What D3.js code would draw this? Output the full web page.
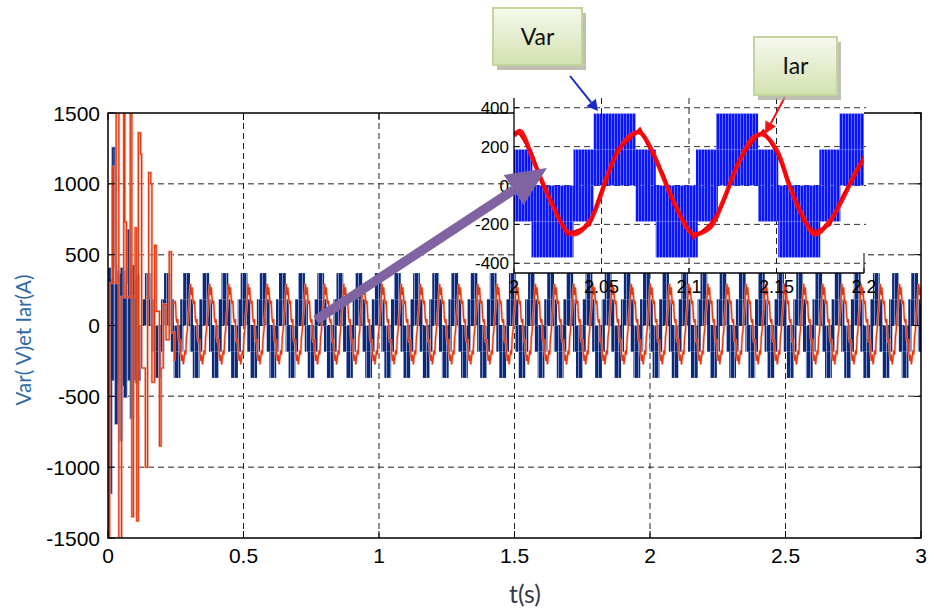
<!DOCTYPE html>
<html><head><meta charset="utf-8">
<script src="https://cdn.jsdelivr.net/npm/d3@7"></script>
<style>body{margin:0;background:#fff;} svg{display:block;}</style>
</head><body><svg id="c" width="934" height="610"></svg>
<script>
// ---------- axis ticks ----------
const mainXTicks = [0, 0.5, 1, 1.5, 2, 2.5, 3];
const mainYTicks = [-1500, -1000, -500, 0, 500, 1000, 1500];
const insetXTicks = [2, 2.05, 2.1, 2.15, 2.2];
const insetXLabels = ["2", "2.05", "2.1", "2.15", "2.2"];
const insetYTicks = [-400, -200, 0, 200, 400];

// ---------- Var : multilevel voltage ----------
const varLevels = [185, 370];            // inner / outer voltage steps (V)
const varInnerHalf = 0.0235;             // half width of the 0..±185 band (s)
const varOuterHalf = 0.0125;             // half width of the ±185..±370 band (s)
const varPeriod = 0.0707;                // fundamental period (s)
const varAnchor = 2.0575;                // centre of a positive half-cycle (s)
const varStart = 0.115;                  // steady pattern visible from here (s)
const insetHalfCentres = [1.987, 2.022, 2.0575, 2.093, 2.1275, 2.163, 2.198];
const insetHalfSigns   = [1, -1, 1, -1, 1, -1, 1];

// ---------- Iar : current in the inset ----------
const iarInsetT = [2.000, 2.0034, 2.011, 2.0158, 2.0225, 2.0301, 2.0349, 2.0434, 2.0491, 2.053,
  2.0587, 2.0663, 2.072, 2.0777, 2.0853, 2.091, 2.0987, 2.1025, 2.112, 2.1196, 2.1273, 2.1367,
  2.1425, 2.1501, 2.1577, 2.1653, 2.172, 2.1806, 2.1882, 2.1958, 2.1996];
const iarInsetV = [255, 280, 130, 26, -112, -234, -250, -182, -61, 43,
  164, 255, 272, 199, 43, -78, -216, -251, -216, -78, 95, 245,
  262, 182, -9, -165, -251, -182, -61, 78, 130];
// ripple strand on top of the inset current
const iarRippleV = [20, -18, 22, -15, 18, -20, 16, -22, 18, -16, 20, -18, 22, -16, 18, -20,
  16, -22, 18, -16, 20, -18, 22, -16, 18, -20, 16, -22, 18, -16, 20];

// ---------- Iar : one steady-state cycle as seen in the main view ----------
const iarLag = 0.0145;                   // current peak lags the voltage centre (s)
const iarCycle = [295, 215, 270, 190, 150, 175, 55, 20, 45, -85, -120, -95, -205, -250, -205, -275, -225, -175, -205, -80, -35, 60, 120, 205];
const iarStart = 0.245;

// ---------- start-up transient (read from the main view) ----------
const varTransT = [0, 0.003, 0.007, 0.011, 0.015, 0.018, 0.026, 0.029, 0.033, 0.036, 0.040, 0.045, 0.050, 0.054,
  0.058, 0.062, 0.066, 0.070, 0.077, 0.081, 0.085, 0.091, 0.096, 0.100, 0.104, 0.108, 0.112, 0.116];
const varTransV = [0, 400, -1180, 320, -380, 1250, 420, -690, 380, -400, 360, -810, 400, -420,
  380, -500, 300, 670, -380, 400, -650, 420, -380, 300, -400, 350, -380, 0];
const iarTransT = [0, 0.002, 0.006, 0.016, 0.020, 0.030, 0.040, 0.050, 0.058, 0.062, 0.068, 0.082, 0.088,
  0.094, 0.100, 0.106, 0.112, 0.120, 0.124, 0.138, 0.146, 0.150, 0.158, 0.162, 0.172, 0.178, 0.190,
  0.196, 0.204, 0.214, 0.226, 0.234, 0.245];
const iarTransV = [0, -1800, 300, 1120, 300, 1800, -1800, 200, 1800, 730, 200, 1800, -1350,
  200, 690, -1380, 1360, 1210, -300, -1000, 200, 1080, 1000, -400, 565, 100, -850,
  -300, 150, -100, 520, -50, -250];

// ================================================================
const svg = d3.select("#c");
const defs = svg.append("defs");

const M = {l: 108, r: 921, t: 113, b: 538};
const xs = d3.scaleLinear().domain([0, 3]).range([M.l, M.r]);
const ys = d3.scaleLinear().domain([-1500, 1500]).range([M.b, M.t]);
const I = {l: 514, r: 864, t: 98, b: 273};
const xi = d3.scaleLinear().domain([2, 2.2]).range([I.l, I.r]);
const yi = d3.scaleLinear().domain([-450, 450]).range([I.b, I.t]);

defs.append("clipPath").attr("id", "mainClip").append("rect")
  .attr("x", M.l).attr("y", M.t).attr("width", M.r - M.l).attr("height", M.b - M.t);
defs.append("clipPath").attr("id", "insetClip").append("rect")
  .attr("x", I.l).attr("y", I.t).attr("width", I.r - I.l).attr("height", I.b - I.t);

// stripe patterns (PWM look)
const p1 = defs.append("pattern").attr("id", "mainStripe").attr("patternUnits", "userSpaceOnUse")
  .attr("width", 4).attr("height", 10);
p1.append("rect").attr("width", 4).attr("height", 10).attr("fill", "#0d2a78");
p1.append("rect").attr("x", 2).attr("width", 1).attr("height", 10).attr("fill", "#7e90c6");
const p2 = defs.append("pattern").attr("id", "insetStripe").attr("patternUnits", "userSpaceOnUse")
  .attr("width", 3).attr("height", 10);
p2.append("rect").attr("width", 3).attr("height", 10).attr("fill", "#0a14ff");
p2.append("rect").attr("x", 2).attr("width", 1).attr("height", 10).attr("fill", "#5f6cff");

// legend gradient
const lg = defs.append("linearGradient").attr("id", "boxGrad").attr("x1", 0).attr("y1", 0).attr("x2", 0).attr("y2", 1);
lg.append("stop").attr("offset", "0%").attr("stop-color", "#f6f9ee");
lg.append("stop").attr("offset", "100%").attr("stop-color", "#d3e2b0");

// ---------- main grid ----------
const grid = svg.append("g");
mainXTicks.slice(1, -1).forEach(v => grid.append("line")
  .attr("x1", xs(v)).attr("x2", xs(v)).attr("y1", M.t).attr("y2", M.b)
  .attr("stroke", "#222").attr("stroke-dasharray", "6,4"));
mainYTicks.slice(1, -1).forEach(v => grid.append("line")
  .attr("x1", M.l).attr("x2", M.r).attr("y1", ys(v)).attr("y2", ys(v))
  .attr("stroke", Math.abs(v) === 500 ? "#666" : "#222")
  .attr("stroke-width", Math.abs(v) === 500 ? 1.5 : 1)
  .attr("stroke-dasharray", "6,4"));

// ---------- main data ----------
const dm = svg.append("g").attr("clip-path", "url(#mainClip)");

function halfCycles(from, to) {
  const out = [];
  const h = varPeriod / 2;
  const k0 = Math.ceil((from - varAnchor) / h), k1 = Math.floor((to - varAnchor) / h);
  for (let k = k0; k <= k1; k++) out.push({c: varAnchor + k * h, s: Math.abs(k) % 2 === 0 ? 1 : -1});
  return out;
}
function bandRects(hc, innerHalf, outerHalf) {
  const r = [];
  hc.forEach(d => {
    r.push({t0: d.c - innerHalf, t1: d.c + innerHalf, lo: 0, hi: d.s * varLevels[0]});
    r.push({t0: d.c - outerHalf, t1: d.c + outerHalf, lo: d.s * varLevels[0], hi: d.s * varLevels[1]});
  });
  return r;
}
const mainBands = bandRects(halfCycles(varStart, 3.05), varInnerHalf, varOuterHalf).filter(b => b.t1 > varStart);
dm.append("g").selectAll("rect").data(mainBands).join("rect")
  .attr("x", d => xs(Math.max(d.t0, varStart))).attr("width", d => xs(d.t1) - xs(Math.max(d.t0, varStart)))
  .attr("y", d => ys(Math.max(d.lo, d.hi))).attr("height", d => Math.abs(ys(d.lo) - ys(d.hi)))
  .attr("fill", "url(#mainStripe)");

// var transient
const stepLine = (x, y) => d3.line().x(d => x(d[0])).y(d => y(d[1])).curve(d3.curveStepAfter);
const varTrans = varTransT.map((t, i) => [t, varTransV[i]]);
dm.append("path").datum(varTrans).attr("d", stepLine(xs, ys)).attr("fill", "none")
  .attr("stroke", "#8a9ace").attr("stroke-width", 3.2);
dm.append("path").datum(varTrans).attr("d", stepLine(xs, ys)).attr("fill", "none")
  .attr("stroke", "#0d2a78").attr("stroke-width", 1.6);

// iar: transient + steady cycles
const iarPts = iarTransT.map((t, i) => [t, iarTransV[i]]);
const steady = [];
const n = iarCycle.length;
for (let m = -40; m <= 15; m++) {
  const p = varAnchor + iarLag + m * varPeriod;
  iarCycle.forEach((v, i) => {
    const t = p + i * varPeriod / n;
    if (t >= iarStart && t <= 3.01) steady.push([t, v]);
  });
}
steady.sort((a, b) => a[0] - b[0]);
const linearLine = d3.line().x(d => xs(d[0])).y(d => ys(d[1]));
[["#f3a08c", 2.6, 0.75], ["#e2380e", 1.2, 1]].forEach(([c, w, o]) => {
  dm.append("path").datum(iarPts).attr("d", stepLine(xs, ys)).attr("fill", "none")
    .attr("stroke", c).attr("stroke-width", w).attr("opacity", o);
  dm.append("path").datum(steady).attr("d", linearLine).attr("fill", "none")
    .attr("stroke", c).attr("stroke-width", w).attr("opacity", o);
});

// ---------- main frame & ticks ----------
const fr = svg.append("g");
fr.append("rect").attr("x", M.l).attr("y", M.t).attr("width", M.r - M.l).attr("height", M.b - M.t)
  .attr("fill", "none").attr("stroke", "#000").attr("stroke-width", 1.5);
mainXTicks.forEach(v => {
  fr.append("line").attr("x1", xs(v)).attr("x2", xs(v)).attr("y1", M.b).attr("y2", M.b - 7).attr("stroke", "#000");
  fr.append("line").attr("x1", xs(v)).attr("x2", xs(v)).attr("y1", M.t).attr("y2", M.t + 7).attr("stroke", "#000");
  fr.append("text").attr("x", xs(v)).attr("y", 563).attr("text-anchor", "middle")
    .attr("font-family", "Liberation Sans, Arial, sans-serif").attr("font-size", 21).attr("fill", "#000").text(v);
});
mainYTicks.forEach(v => {
  fr.append("line").attr("x1", M.l).attr("x2", M.l + 7).attr("y1", ys(v)).attr("y2", ys(v)).attr("stroke", "#000");
  fr.append("line").attr("x1", M.r).attr("x2", M.r - 7).attr("y1", ys(v)).attr("y2", ys(v)).attr("stroke", "#000");
  fr.append("text").attr("x", 100).attr("y", ys(v) + 7.5).attr("text-anchor", "end")
    .attr("font-family", "Liberation Sans, Arial, sans-serif").attr("font-size", 21).attr("fill", "#000").text(v);
});
svg.append("text").attr("x", 525).attr("y", 603).attr("text-anchor", "middle")
  .attr("font-family", "Lato, Open Sans, sans-serif").attr("font-size", 25).attr("fill", "#3b3b4b").text("t(s)");
svg.append("text").attr("transform", "translate(31,340) rotate(-90)").attr("text-anchor", "middle")
  .attr("font-family", "Lato, Open Sans, sans-serif").attr("font-size", 20.5).attr("fill", "#2f6aa8")
  .text("Var( V)et Iar(A)");

// ---------- inset ----------
const ins = svg.append("g");
ins.append("rect").attr("x", I.l).attr("y", I.t).attr("width", I.r - I.l).attr("height", I.b - I.t).attr("fill", "#fff");
insetYTicks.forEach(v => ins.append("line").attr("x1", I.l).attr("x2", I.r + 2).attr("y1", yi(v)).attr("y2", yi(v))
  .attr("stroke", "#333").attr("stroke-dasharray", "6,4"));
insetXTicks.slice(1, -1).forEach(v => ins.append("line").attr("x1", xi(v)).attr("x2", xi(v)).attr("y1", I.t).attr("y2", I.b)
  .attr("stroke", "#222").attr("stroke-dasharray", "6,4"));
const di = ins.append("g").attr("clip-path", "url(#insetClip)");
const insetBands = bandRects(insetHalfCentres.map((c, i) => ({c, s: insetHalfSigns[i]})), 0.0235, 0.012);
di.append("g").selectAll("rect").data(insetBands).join("rect")
  .attr("x", d => xi(d.t0)).attr("width", d => xi(d.t1) - xi(d.t0))
  .attr("y", d => yi(Math.max(d.lo, d.hi))).attr("height", d => Math.abs(yi(d.lo) - yi(d.hi)))
  .attr("fill", "url(#insetStripe)");
const iarInset = iarInsetT.map((t, i) => [t, iarInsetV[i]]);
const insetLine = d3.line().x(d => xi(d[0])).y(d => yi(d[1])).curve(d3.curveCatmullRom);
di.append("path").datum(iarInset).attr("d", insetLine).attr("fill", "none")
  .attr("stroke", "#ff1010").attr("stroke-width", 4.5).attr("stroke-linejoin", "round");
const iarRipple = iarInsetT.map((t, i) => [t, iarInsetV[i] + iarRippleV[i]]);
di.append("path").datum(iarRipple).attr("d", d3.line().x(d => xi(d[0])).y(d => yi(d[1])))
  .attr("fill", "none").attr("stroke", "#f00000").attr("stroke-width", 2);
ins.append("line").attr("x1", I.l).attr("x2", I.l).attr("y1", I.t).attr("y2", I.b).attr("stroke", "#000").attr("stroke-width", 1.3);
ins.append("line").attr("x1", I.l).attr("x2", I.r).attr("y1", I.b).attr("y2", I.b).attr("stroke", "#000").attr("stroke-width", 1.3);
ins.append("line").attr("x1", I.r).attr("x2", I.r).attr("y1", I.b - 20).attr("y2", I.b).attr("stroke", "#000").attr("stroke-width", 1);
insetYTicks.forEach(v => {
  ins.append("line").attr("x1", I.l).attr("x2", I.l + 5).attr("y1", yi(v)).attr("y2", yi(v)).attr("stroke", "#000");
  ins.append("text").attr("x", 509).attr("y", yi(v) + 6).attr("text-anchor", "end")
    .attr("font-family", "Liberation Sans, Arial, sans-serif").attr("font-size", 17).attr("fill", "#000").text(v);
});
insetXTicks.forEach((v, i) => {
  ins.append("line").attr("x1", xi(v)).attr("x2", xi(v)).attr("y1", I.b).attr("y2", I.b - 5).attr("stroke", "#000");
  ins.append("text").attr("x", xi(v)).attr("y", 293).attr("text-anchor", "middle")
    .attr("font-family", "Liberation Sans, Arial, sans-serif").attr("font-size", 18).attr("fill", "#000").text(insetXLabels[i]);
});

// ---------- arrows ----------
function arrow(x1, y1, x2, y2, color, w, head, hw) {
  const a = Math.atan2(y2 - y1, x2 - x1);
  const bx = x2 - head * Math.cos(a), by = y2 - head * Math.sin(a);
  svg.append("line").attr("x1", x1).attr("y1", y1).attr("x2", bx).attr("y2", by)
    .attr("stroke", color).attr("stroke-width", w);
  const px = -Math.sin(a) * hw, py = Math.cos(a) * hw;
  svg.append("path").attr("d", `M${x2},${y2}L${bx + px},${by + py}L${bx - px},${by - py}Z`).attr("fill", color);
}
arrow(316, 320, 547, 168, "#8064a2", 9.5, 40, 18);
arrow(570, 76, 598, 111, "#1a28c8", 2, 11, 6);
arrow(785, 97, 765, 134, "#f01414", 2, 12, 6);

// ---------- callout boxes ----------
function callout(x, y, w, h, label) {
  svg.append("rect").attr("x", x + 4).attr("y", y + 5).attr("width", w).attr("height", h).attr("fill", "#a9a99b").attr("opacity", 0.75);
  svg.append("rect").attr("x", x).attr("y", y).attr("width", w).attr("height", h)
    .attr("fill", "url(#boxGrad)").attr("stroke", "#c3d49c").attr("stroke-width", 2);
  svg.append("text").attr("x", x + w / 2).attr("y", y + h / 2 + 8).attr("text-anchor", "middle")
    .attr("font-family", "Lato, Open Sans, sans-serif").attr("font-size", 23).attr("fill", "#111").text(label);
}
callout(493, 8, 89, 57, "Var");
callout(754, 37, 83, 58, "Iar");
</script></body></html>
